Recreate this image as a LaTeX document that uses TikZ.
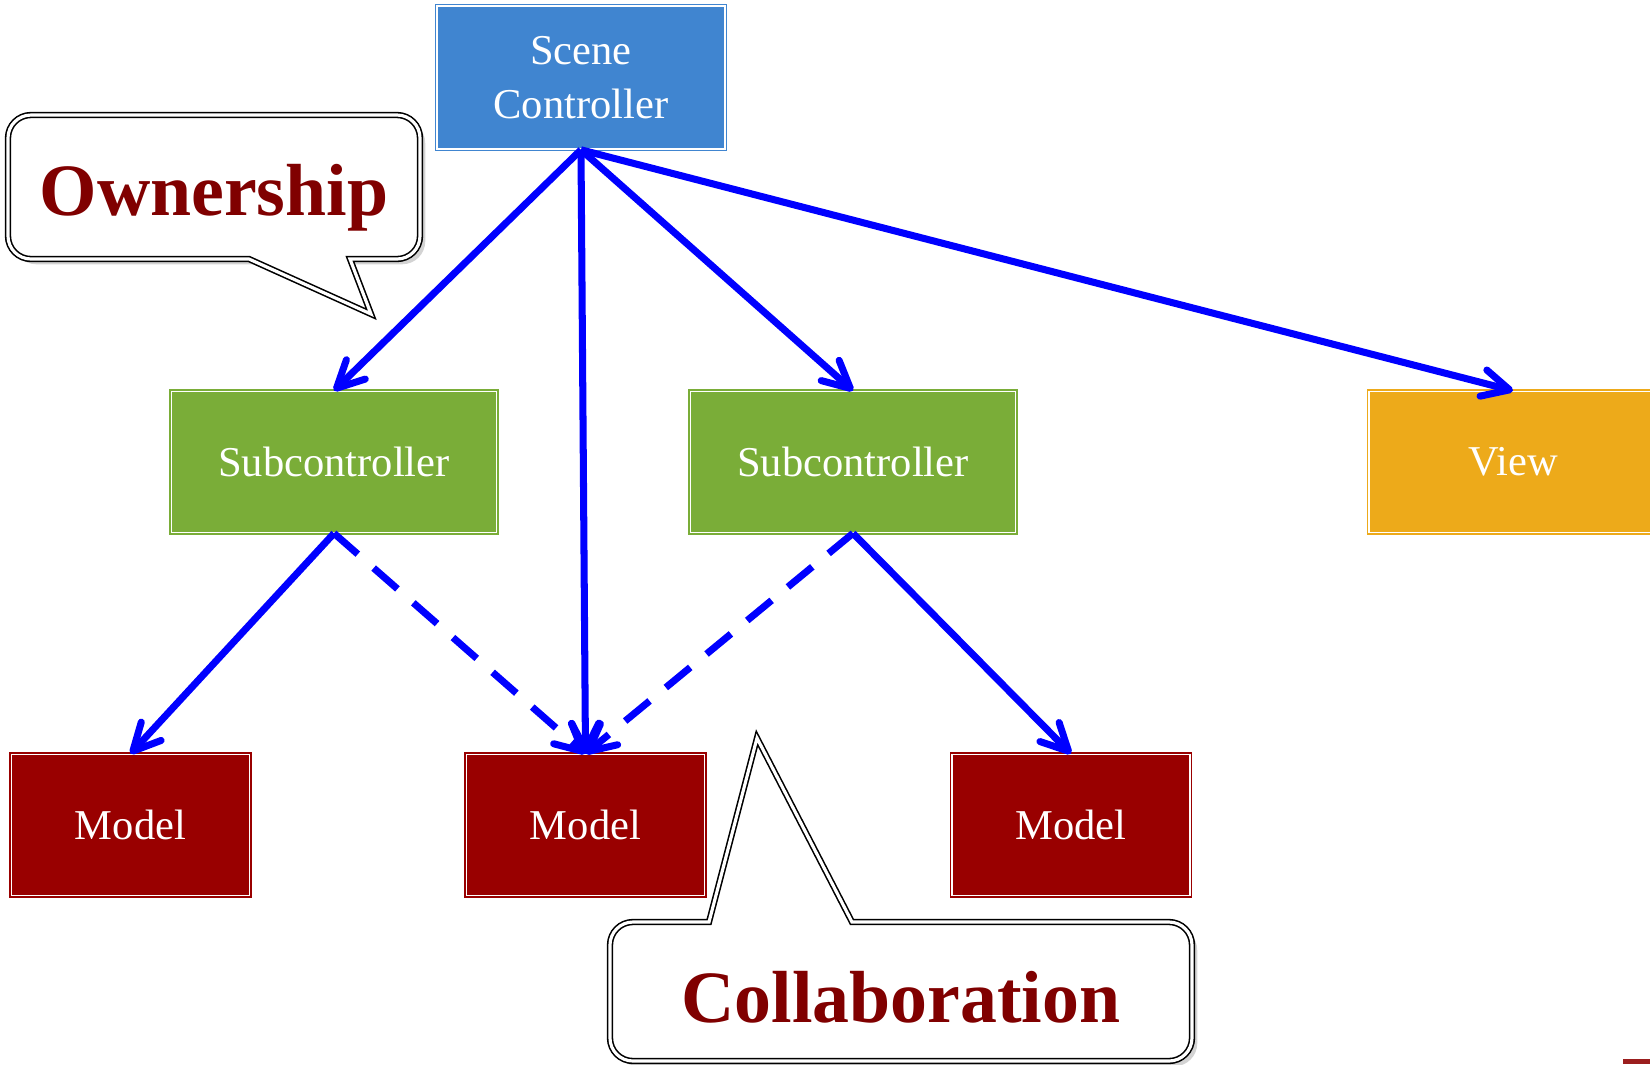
\documentclass[tikz,border=0pt]{standalone}
\usepackage{fontspec}
\setmainfont{Liberation Serif}
\usetikzlibrary{arrows.meta,shadows}

\definecolor{sceneblue}{RGB}{64,133,208}
\definecolor{subgreen}{RGB}{122,173,56}
\definecolor{viewgold}{RGB}{237,170,26}
\definecolor{modelred}{RGB}{153,0,0}
\definecolor{talkred}{RGB}{128,0,0}
\definecolor{slidered}{RGB}{155,30,30}

\tikzset{
	box/.style={rectangle, inner sep=0pt, minimum height=1.41cm, text=white, align=center,
		font=\fontsize{12.1}{15.3}\selectfont, line width=0.45pt, double=white, double distance=0.5pt},
	scenebox/.style={box, fill=sceneblue, draw=sceneblue, minimum width=2.88cm, minimum height=1.43cm},
	subbox/.style={box, fill=subgreen, draw=subgreen, minimum width=3.25cm},
	viewbox/.style={box, fill=viewgold, draw=viewgold, minimum width=2.88cm},
	modelbox/.style={box, fill=modelred, draw=modelred, minimum width=2.38cm},
	owns/.style={draw=blue, line width=2pt, -{Straight Barb[length=2.7mm,width=2.7mm,round]}},
	uses/.style={owns, dash pattern=on 9pt off 6pt},
	callout/.style={fill=white, draw=black, line width=0.45pt, double=white, double distance=0.9pt,
		drop shadow={shadow xshift=1.5pt, shadow yshift=-1.5pt, opacity=0.35}},
	talk/.style={text=talkred, font=\fontsize{21}{25}\selectfont\bfseries}
}

\begin{document}
\begin{tikzpicture}[y=-1cm]
		%%%%% START %%%%%
		
		\useasboundingbox (0,0) rectangle (16.5,10.64);
		
		\node[scenebox] (scene) at (5.81, 0.775) {Scene\\Controller};
		
		\node[subbox] (sub1) at (3.34, 4.62) {Subcontroller};
		\node[subbox] (sub2) at (8.53, 4.62) {Subcontroller};
		\node[viewbox] (view) at (15.13, 4.62) {View};
		
		\node[modelbox] (model1) at (1.305, 8.25) {Model};
		\node[modelbox] (model2) at (5.855, 8.25) {Model};
		\node[modelbox] (model3) at (10.71, 8.25) {Model};
		
		\draw[owns] (scene.south) -- (sub1.north);
		\draw[owns] (scene.south) -- (model2.north);
		\draw[owns] (scene.south) -- (sub2.north);
		\draw[owns] (scene.south) -- (view.north);
		
		\draw[owns] (sub1.south) -- (model1.north);
		\draw[uses] (sub1.south) -- (model2.north);
		\draw[uses] (sub2.south) -- (model2.north);
		\draw[owns] (sub2.south) -- (model3.north);
		
		% speech bubbles
		\draw[callout] (0.08,1.87) [rounded corners=0.23cm] |- (4.20,1.15) -- (4.20,2.59)
			[sharp corners] -- (3.50,2.59) -- (3.71,3.14) -- (2.49,2.59) [rounded corners=0.23cm] -- (0.08,2.59) -- cycle;
		\node[talk] (ownership) at (2.14,1.98) {Ownership};
		
		\draw[callout] (6.10,9.91) [rounded corners=0.23cm] -- (6.10,9.22) [sharp corners] -- (7.09,9.22)
			-- (7.57,7.38) -- (8.52,9.22) [rounded corners=0.23cm] -| (11.92,10.61) -- (6.10,10.61) -- cycle;
		\node[talk] (collaboration) at (9.01,9.97) {Collaboration};
		
		\fill[slidered] (16.23,10.59) rectangle (16.5,10.64);
		
		%%%%% END %%%%%
	\end{tikzpicture}
\end{document}
